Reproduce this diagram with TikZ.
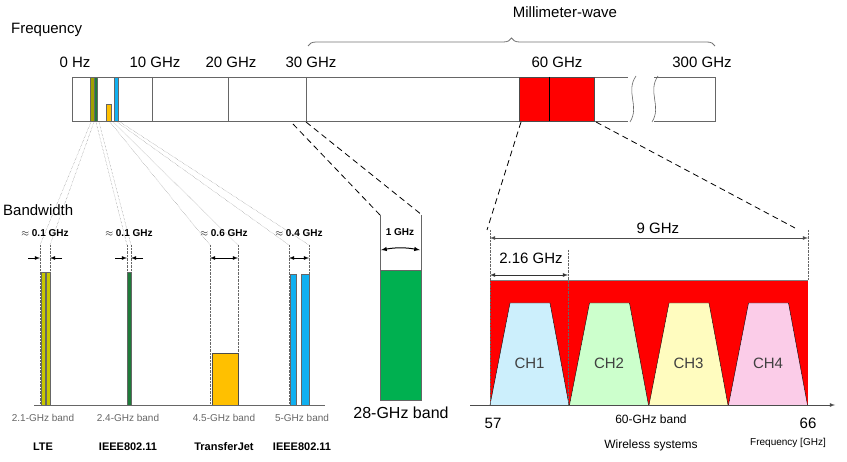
\documentclass[tikz,border=0pt]{standalone}
\usepackage{fontspec}
\setmainfont{Liberation Sans}
\usetikzlibrary{decorations.pathreplacing}
\definecolor{olivebar}{HTML}{C8C800}
\definecolor{darkbar}{HTML}{1F7A3A}
\definecolor{amberbar}{HTML}{FFC000}
\definecolor{skybar}{HTML}{10B0F0}
\definecolor{kagreen}{HTML}{00B050}
\begin{document}
\begin{tikzpicture}[x=1pt,y=-1pt,
            every node/.style={inner sep=1pt},
            lbl/.style={font=\fontsize{15}{17}\selectfont},
            bw/.style={font=\bfseries\fontsize{10}{12}\selectfont},
            band/.style={font=\fontsize{10}{12}\selectfont, text=black!60},
            sysname/.style={font=\bfseries\fontsize{11}{13}\selectfont},
            barline/.style={draw=black!60, line width=0.6pt},
            fan/.style={densely dotted, draw=black!55},
            zoomline/.style={dashed, dash pattern=on 6pt off 4pt, line width=0.8pt},
            dim/.style={<->, >=latex, line width=0.8pt},
            guide/.style={densely dotted, draw=black!60}]
    \useasboundingbox (0,0) rectangle (847,462);
    % spectrum bar
    \draw [barline] (72,77) rectangle (630,121);
    \draw [barline] (652,77) rectangle (715,121);
    \fill [white] (628,76) rectangle (654,122);
    \draw [barline] (636,76) .. controls (625,92) and (640,106) .. (630,122);
    \draw [barline] (658,76) .. controls (647,92) and (662,106) .. (652,122);
    \foreach \x in {152,228,306} \draw [barline] (\x,77) -- (\x,121);
    \draw [fill=red, draw=black!70] (519,77) rectangle (594,121);
    \draw [black] (549,77) -- (549,121);
    \draw [fill=olivebar!80!black, draw=black!60] (90,77) rectangle (94,121);
    \draw [fill=darkbar, draw=black!60] (94,77) rectangle (97,121);
    \draw [fill=amberbar, draw=black!60] (106,104) rectangle (111,121);
    \draw [fill=skybar, draw=black!60] (114,77) rectangle (118,121);
    \node [lbl] (hz0) at (75,62) {0 Hz};
    \node [lbl] (hz10) at (155,62) {10 GHz};
    \node [lbl] (hz20) at (231,62) {20 GHz};
    \node [lbl] (hz30) at (311,62) {30 GHz};
    \node [lbl] (hz60) at (557,62) {60 GHz};
    \node [lbl] (hz300) at (702,62) {300 GHz};
    \node [lbl, anchor=west] (freq) at (10,30) {Frequency};
    \draw [draw=black!55, line width=0.8pt, decorate, decoration={brace, amplitude=8pt}]
        (308,46) -- (715,46);
    \node [lbl] (mmw) at (565,12) {Millimeter-wave};
    % low bands
    \node [lbl, anchor=west] (bwidth) at (2,210) {Bandwidth};
    \coordinate (ltel) at (40,258);   \coordinate (lter) at (50,258);
    \coordinate (wlanal) at (127,258); \coordinate (wlanar) at (131,258);
    \coordinate (tjl) at (210,258);   \coordinate (tjr) at (238,258);
    \coordinate (wlanbl) at (289,258); \coordinate (wlanbr) at (309,258);
    \foreach \a/\b/\c/\d/\t/\n in {91/94/40/50/0.1/lte, 96/99/127/131/0.1/wlana, 110/113/210/238/0.6/tj, 117/120/289/309/0.4/wlanb}{
        \draw [fan] (\a,122) -- (\c,245) (\b,122) -- (\d,245);
        \draw [guide] (\c,245) -- (\c,405) (\d,245) -- (\d,405);
        \node [bw] (\n bw) at ({(\c+\d)/2},233) {$\approx$ \t\ GHz};
    }
    \draw [->, >=latex, line width=0.8pt] (28,258) -- (ltel);
    \draw [->, >=latex, line width=0.8pt] (62,258) -- (lter);
    \draw [->, >=latex, line width=0.8pt] (115,258) -- (wlanal);
    \draw [->, >=latex, line width=0.8pt] (143,258) -- (wlanar);
    \draw [dim] (tjl) -- (tjr);
    \draw [dim] (wlanbl) -- (wlanbr);
    \draw [fill=olivebar, draw=black!60] (41,272) rectangle (45,405);
    \draw [fill=olivebar, draw=black!60] (46,272) rectangle (50,405);
    \draw [fill=darkbar, draw=black!60] (127,272) rectangle (131,405);
    \draw [fill=amberbar, draw=black!70] (212,353) rectangle (238,405);
    \draw [fill=skybar, draw=black!60] (290,274) rectangle (296,405);
    \draw [fill=skybar, draw=black!60] (301,274) rectangle (309,405);
    \draw [barline] (34,405) -- (325,405);
    \foreach \x/\t/\s/\n in {43/2.1-GHz band/LTE/lte, 128/2.4-GHz band/IEEE802.11/wlana, 224/4.5-GHz band/TransferJet/tj, 302/5-GHz band/IEEE802.11/wlanb}{
        \node [band] (\n band) at (\x,418) {\t};
        \node [sysname] (\n sys) at (\x,447) {\s};
    }
    % 28 GHz band
    \draw [zoomline] (293,124) -- (380,215);
    \draw [zoomline] (306,122) -- (422,215);
    \draw [barline] (380,215) -- (380,400) (421,215) -- (421,400);
    \draw [fill=kagreen, draw=black!60] (380,270) rectangle (421,400);
    \node [bw] (kabw) at (400,232) {1 GHz};
    \draw [<->, >=latex, line width=1pt] (381,250) to[bend left=10] (420,250);
    \node [font=\fontsize{16}{18}\selectfont] (kaband) at (401,413) {28-GHz band};
    % 60 GHz band
    \draw [zoomline] (521,122) -- (487,230);
    \draw [zoomline] (596,122) -- (795,228);
    \fill [red] (490,280) rectangle (808,405);
    \draw [black!50] (490,280) -- (808,280);
    \foreach \k/\c/\n in {0/cyan!20/CH1, 1/green!20/CH2, 2/yellow!25/CH3, 3/magenta!20/CH4}{
        \draw [fill=\c, draw=black]
            ({490+\k*79.5},405) -- ({510+\k*79.5},303) -- ({550+\k*79.5},303) -- ({569+\k*79.5},405);
        \node [lbl, text=black!75] (\n) at ({529.5+\k*79.5},363) {\n};
    }
    \draw [guide] (490,230) -- (490,405) (808,230) -- (808,280) (568,250) -- (568,405);
    \draw [->, >=latex, black!70, line width=0.8pt] (470,405) -- (835,405);
    \draw [dim, black!70] (490,238) -- (808,238);
    \node [lbl] (nine) at (658,228) {9 GHz};
    \draw [dim, black!80] (490,275) -- (568,275);
    \node [lbl] (twoonesix) at (531,258) {2.16 GHz};
    \node [lbl] (f57) at (493,423) {57};
    \node [lbl] (f66) at (808,423) {66};
    \node [font=\fontsize{12}{14}\selectfont] (vband) at (651,419) {60-GHz band};
    \node [font=\fontsize{12}{14}\selectfont] (wsys) at (651,445) {Wireless systems};
    \node [font=\fontsize{10}{12}\selectfont] (faxis) at (788,443) {Frequency [GHz]};
\end{tikzpicture}
\end{document}
